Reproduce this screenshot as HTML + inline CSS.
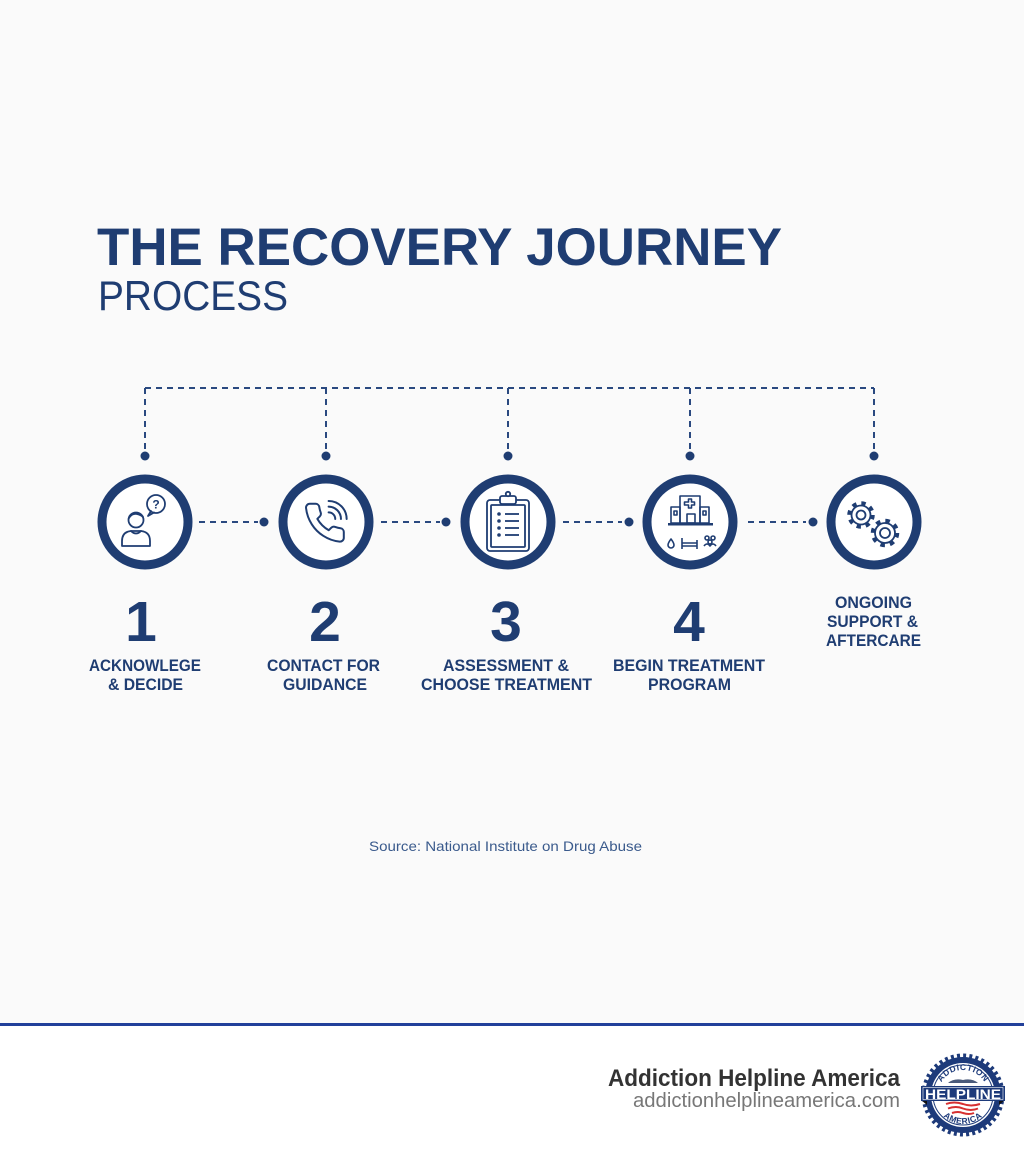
<!DOCTYPE html>
<html><head><meta charset="utf-8"><style>
html,body{margin:0;padding:0;background:#fff;}
svg{display:block;}
</style></head><body>
<svg width="1024" height="1154" viewBox="0 0 1024 1154" xmlns="http://www.w3.org/2000/svg" font-family="'Liberation Sans', Arial, sans-serif">
<rect x="0" y="0" width="1024" height="1024" fill="#fafafa"/>
<rect x="0" y="1024" width="1024" height="130" fill="#ffffff"/>
<!-- Title -->
<text x="97" y="265" font-size="53" font-weight="700" fill="#1f3d72" textLength="685" lengthAdjust="spacingAndGlyphs">THE RECOVERY JOURNEY</text>
<text x="98" y="310" font-size="42" fill="#1f3d72" textLength="190" lengthAdjust="spacingAndGlyphs">PROCESS</text>

<!-- Top dashed bracket -->
<g stroke="#2a4980" stroke-width="2" fill="none" stroke-dasharray="6 5">
<line x1="145" y1="388" x2="874" y2="388"/>
<line x1="145" y1="388" x2="145" y2="452"/>
<line x1="326" y1="388" x2="326" y2="452"/>
<line x1="508" y1="388" x2="508" y2="452"/>
<line x1="690" y1="388" x2="690" y2="452"/>
<line x1="874" y1="388" x2="874" y2="452"/>
<!-- horizontal connectors -->
<line x1="199" y1="522" x2="258" y2="522"/>
<line x1="381" y1="522" x2="440" y2="522"/>
<line x1="563" y1="522" x2="622" y2="522"/>
<line x1="748" y1="522" x2="806" y2="522"/>
</g>
<g fill="#1f3d72">
<circle cx="145" cy="456" r="4.5"/><circle cx="326" cy="456" r="4.5"/><circle cx="508" cy="456" r="4.5"/><circle cx="690" cy="456" r="4.5"/><circle cx="874" cy="456" r="4.5"/>
<circle cx="264" cy="522" r="4.5"/><circle cx="446" cy="522" r="4.5"/><circle cx="629" cy="522" r="4.5"/><circle cx="813" cy="522" r="4.5"/>
</g>

<!-- Rings -->
<g fill="#ffffff" stroke="#1f3d72" stroke-width="9">
<circle cx="145" cy="522" r="43"/>
<circle cx="326" cy="522" r="43"/>
<circle cx="508" cy="522" r="43"/>
<circle cx="690" cy="522" r="43"/>
<circle cx="874" cy="522" r="43"/>
</g>

<!-- Icon 1: person with question bubble -->
<g fill="none" stroke="#1f3d72" stroke-width="1.8" stroke-linejoin="round" stroke-linecap="round">
<circle cx="136" cy="520" r="7.5"/>
<path d="M129 518 q3 -5 8 -4 q4 1 6 3"/>
<path d="M122 546 L122 541 Q122 532 131 531 L141 531 Q150 532 150 541 L150 546 Z"/>
<path d="M131 531 q5 5 10 0"/>
<path d="M151 511 L148 516 L154 512.5"/>
<circle cx="156" cy="504" r="9"/>
</g>
<text x="156" y="508.5" font-size="12" font-weight="700" fill="#1f3d72" text-anchor="middle">?</text>

<!-- Icon 2: phone -->
<g transform="translate(302,500) scale(1.9)" fill="none" stroke="#1f3d72" stroke-width="1.05" stroke-linecap="round" stroke-linejoin="round">
<path d="M22 16.92v3a2 2 0 0 1-2.18 2 19.79 19.79 0 0 1-8.63-3.07 19.5 19.5 0 0 1-6-6 19.790 19.790 0 0 1-3.070-8.670A2 2 0 0 1 4.11 2h3a2 2 0 0 1 2 1.72 12.84 12.84 0 0 0 .7 2.81 2 2 0 0 1-.45 2.11L8.09 9.91a16 16 0 0 0 6 6l1.27-1.27a2 2 0 0 1 2.11-.45 12.84 12.84 0 0 0 2.81.7A2 2 0 0 1 22 16.92z"/>
<path d="M14 6.5 A3.5 3.5 0 0 1 17.5 10"/>
<path d="M14 3.5 A6.5 6.5 0 0 1 20.5 10"/>
<path d="M14 0.5 A9.5 9.5 0 0 1 23.5 10"/>
</g>

<!-- Icon 3: clipboard -->
<g fill="none" stroke="#1f3d72" stroke-width="1.8" stroke-linejoin="round">
<rect x="487" y="500" width="42" height="51" rx="3"/>
<rect x="491" y="505" width="34" height="42" rx="1"/>
<rect x="500" y="496" width="16" height="8" rx="2" fill="#fff"/>
<circle cx="508" cy="494" r="2.2" fill="#fff"/>
<line x1="505" y1="514" x2="519" y2="514"/>
<line x1="505" y1="521" x2="519" y2="521"/>
<line x1="505" y1="528" x2="519" y2="528"/>
<line x1="505" y1="535" x2="519" y2="535"/>
</g>
<g fill="#1f3d72">
<circle cx="499" cy="514" r="1.8"/><circle cx="499" cy="521" r="1.8"/><circle cx="499" cy="528" r="1.8"/><circle cx="499" cy="535" r="1.8"/>
</g>

<!-- Icon 4: hospital -->
<g fill="none" stroke="#1f3d72" stroke-width="1.6" stroke-linejoin="round">
<rect x="680" y="496" width="20" height="27"/>
<rect x="671" y="507" width="9" height="16"/>
<rect x="700" y="507" width="9" height="16"/>
<rect x="687" y="514" width="8" height="9"/>
<path d="M688.5 502 h4 v-3 h3 v3 h3 v3 h-3 v3 h-3 v-3 h-4 z" transform="translate(-4,0)"/>
<rect x="674" y="511" width="3" height="4"/>
<rect x="703" y="511" width="3" height="4"/>
<path d="M671 539 q-3 4 -3 6 a3 3 0 0 0 6 0 q0 -2 -3 -6 z"/>
<path d="M682 538 v11 M682 543 h15 M697 540 v9 M682 546 h15"/>
<circle cx="707" cy="538" r="2"/><circle cx="713" cy="538" r="2"/><circle cx="710" cy="542" r="2"/>
<path d="M704 546 q3 -4 6 0 q3 -4 6 0"/>
</g>
<rect x="668" y="523" width="45" height="2.5" fill="#1f3d72"/>

<!-- Icon 5: gears -->
<g fill="none" stroke="#1f3d72">
<circle cx="861" cy="515" r="11.5" stroke-width="4.5" stroke-dasharray="4.2 4.83"/>
<circle cx="861" cy="515" r="9.5" stroke-width="1.8" fill="#fff"/>
<circle cx="861" cy="515" r="4.5" stroke-width="1.8"/>
<circle cx="885" cy="533" r="12" stroke-width="4.5" stroke-dasharray="4.4 5.02"/>
<circle cx="885" cy="533" r="10" stroke-width="1.8" fill="#fff"/>
<circle cx="885" cy="533" r="5" stroke-width="1.8"/>
</g>

<!-- Numbers -->
<g font-size="57" font-weight="700" fill="#1f3d72" text-anchor="middle">
<text x="141" y="641">1</text>
<text x="325" y="641">2</text>
<text x="506" y="641">3</text>
<text x="689" y="641">4</text>
</g>

<!-- Labels -->
<g font-size="17" font-weight="700" fill="#1f3d72">
<text x="89" y="671" textLength="112" lengthAdjust="spacingAndGlyphs">ACKNOWLEGE</text>
<text x="108" y="690" textLength="75" lengthAdjust="spacingAndGlyphs">&amp; DECIDE</text>
<text x="267" y="671" textLength="113" lengthAdjust="spacingAndGlyphs">CONTACT FOR</text>
<text x="283" y="690" textLength="84" lengthAdjust="spacingAndGlyphs">GUIDANCE</text>
<text x="443" y="671" textLength="126" lengthAdjust="spacingAndGlyphs">ASSESSMENT &amp;</text>
<text x="421" y="690" textLength="171" lengthAdjust="spacingAndGlyphs">CHOOSE TREATMENT</text>
<text x="613" y="671" textLength="152" lengthAdjust="spacingAndGlyphs">BEGIN TREATMENT</text>
<text x="648" y="690" textLength="83" lengthAdjust="spacingAndGlyphs">PROGRAM</text>
<text x="835" y="608" textLength="77" lengthAdjust="spacingAndGlyphs">ONGOING</text>
<text x="827" y="627" textLength="91" lengthAdjust="spacingAndGlyphs">SUPPORT &amp;</text>
<text x="826" y="646" textLength="95" lengthAdjust="spacingAndGlyphs">AFTERCARE</text>
</g>

<!-- Source -->
<text x="369" y="851" font-size="14" fill="#3a5a8c" textLength="273" lengthAdjust="spacingAndGlyphs">Source: National Institute on Drug Abuse</text>

<!-- Footer line -->
<rect x="0" y="1023" width="1024" height="3" fill="#22409a"/>

<!-- Footer text -->
<text x="608" y="1086" font-size="24" font-weight="700" fill="#333333" textLength="292" lengthAdjust="spacingAndGlyphs">Addiction Helpline America</text>
<text x="633" y="1107" font-size="20" fill="#777777" textLength="267" lengthAdjust="spacingAndGlyphs">addictionhelplineamerica.com</text>

<!-- Logo -->
<g>
<circle cx="963" cy="1095" r="38" fill="#1d3a7a"/>
<circle cx="963" cy="1095" r="39.5" fill="none" stroke="#1d3a7a" stroke-width="4" stroke-dasharray="3 3.2"/>
<circle cx="963" cy="1095" r="32" fill="#ffffff"/>
<circle cx="963" cy="1095" r="30" fill="none" stroke="#1d3a7a" stroke-width="1"/>
<defs>
<path id="arcTop" d="M938 1095 A25 25 0 0 1 988 1095"/>
<path id="arcBot" d="M934 1095 A29 29 0 0 0 992 1095"/>
</defs>
<text font-size="8.5" font-weight="700" fill="#1d3a7a" letter-spacing="0.5"><textPath href="#arcTop" startOffset="50%" text-anchor="middle">ADDICTION</textPath></text>
<text font-size="8.5" font-weight="700" fill="#1d3a7a" letter-spacing="0.5"><textPath href="#arcBot" startOffset="50%" text-anchor="middle">AMERICA</textPath></text>
<path d="M948 1083 q6 -5 15 -3 q9 -2 15 3 z" fill="#4a5a7a"/>
<polygon points="921,1100 927,1100 927,1105" fill="#111"/>
<polygon points="1005,1100 999,1100 999,1105" fill="#111"/>
<rect x="921" y="1086" width="84" height="15" fill="#1d3a7a"/>
<rect x="923" y="1087.5" width="80" height="12" fill="none" stroke="#ffffff" stroke-width="0.6"/>
<text x="925" y="1099" font-size="14" font-weight="700" fill="#ffffff" textLength="76" lengthAdjust="spacingAndGlyphs">HELPLINE</text>
<g fill="none" stroke="#d63031" stroke-width="2">
<path d="M946 1104 q8 -3 17 0 q8 3 17 0"/>
<path d="M948 1108.5 q8 -3 15 0 q8 3 15 0"/>
<path d="M952 1113 q6 -2 11 0 q6 2 11 0"/>
</g>
</g>
</svg>
</body></html>
